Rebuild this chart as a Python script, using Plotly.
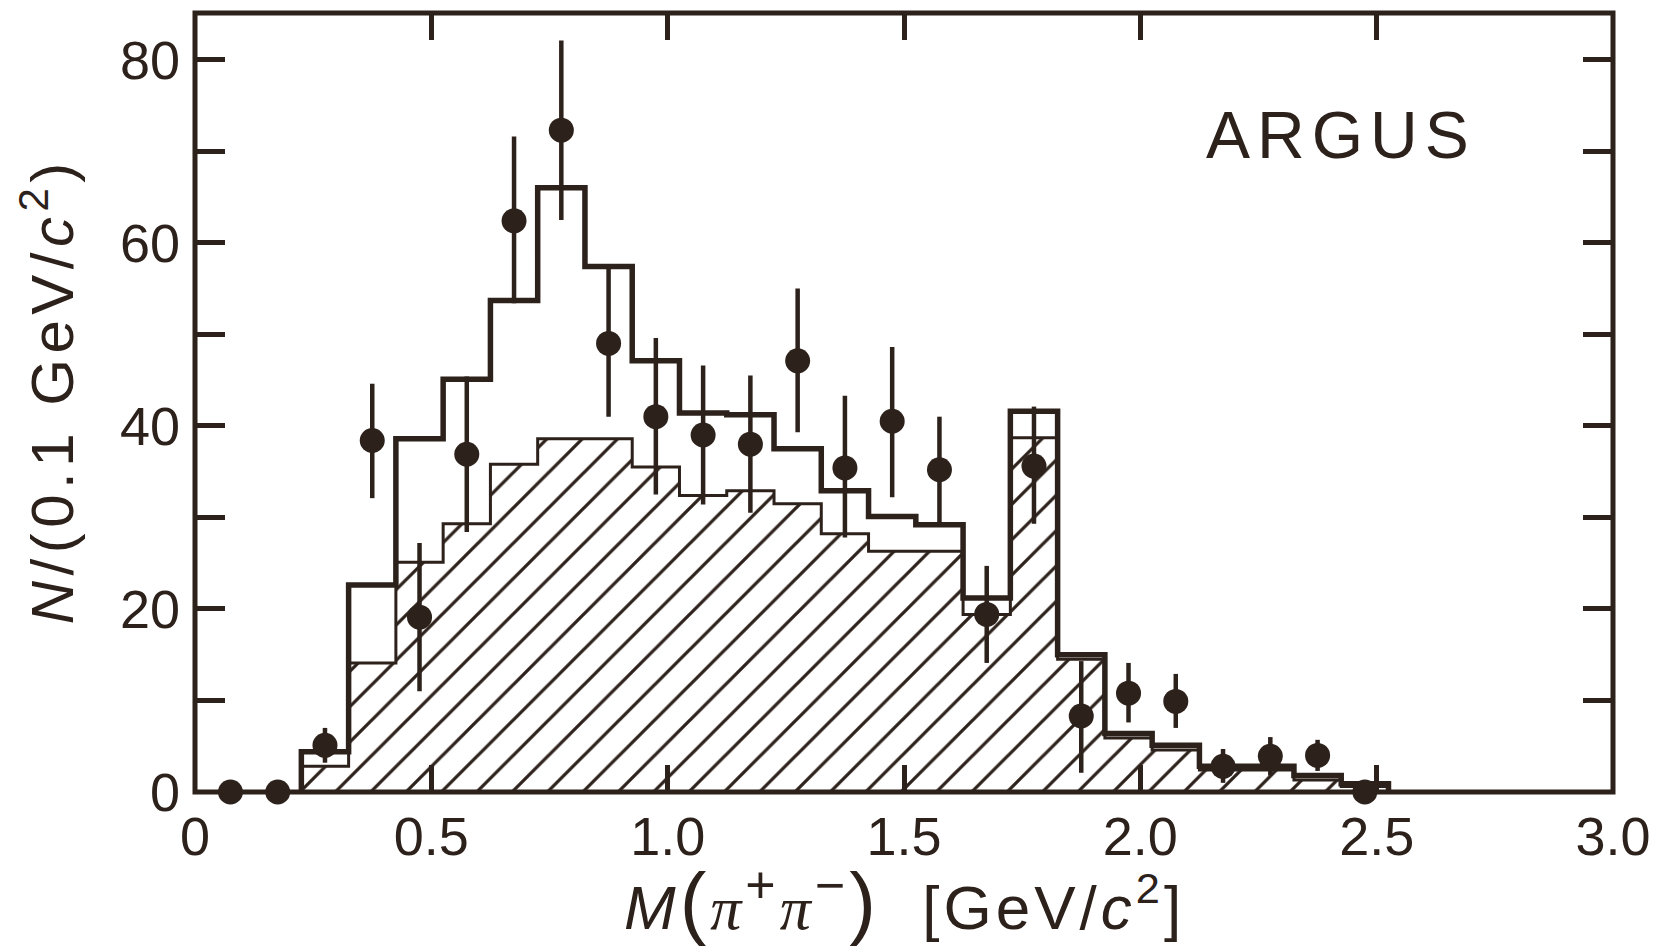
import plotly.graph_objects as go

INK = "#2d211b"

# ---------------- data ----------------
point_mass = [0.075, 0.175, 0.275, 0.375, 0.475, 0.575, 0.675, 0.775, 0.875, 0.975,
              1.075, 1.175, 1.275, 1.375, 1.475, 1.575, 1.675, 1.775, 1.875, 1.975,
              2.075, 2.175, 2.275, 2.375, 2.475]
point_counts = [0.0, 0.0, 5.1, 38.4, 19.1, 36.9, 62.4, 72.3, 49.0, 41.0,
                39.0, 38.0, 47.1, 35.4, 40.5, 35.2, 19.4, 35.6, 8.3, 10.8,
                9.9, 2.8, 3.9, 4.0, 0.0]
err_up = [0, 0, 1.9, 6.2, 8.1, 8.5, 9.2, 9.8, 8.2, 8.6,
          7.6, 7.5, 7.9, 7.9, 8.1, 5.8, 5.3, 6.5, 6.0, 3.3,
          3.0, 1.9, 2.1, 1.7, 0]
err_down = [0, 0, 1.9, 6.3, 8.1, 8.5, 9.0, 9.8, 8.0, 8.5,
            7.6, 7.5, 7.8, 7.6, 8.3, 5.8, 5.3, 6.3, 6.2, 3.2,
            2.9, 1.8, 2.1, 1.7, 0]

bin_edges = [0.225, 0.325, 0.425, 0.525, 0.625, 0.725, 0.825, 0.925, 1.025, 1.125,
             1.225, 1.325, 1.425, 1.525, 1.625, 1.725, 1.825, 1.925, 2.025, 2.125,
             2.225, 2.325, 2.425, 2.525]
total_counts = [4.4, 22.6, 38.6, 45.1, 53.7, 66.0, 57.4, 47.1, 41.4, 41.2,
                37.5, 32.9, 30.1, 29.2, 21.2, 41.6, 15.0, 6.4, 5.1, 2.8,
                2.8, 1.8, 0.9]
background_counts = [2.8, 14.1, 25.1, 29.3, 35.8, 38.6, 38.6, 35.5, 32.4, 32.9,
                     31.5, 28.2, 26.3, 26.3, 19.4, 38.7, 14.5, 5.9, 4.6, 2.4,
                     2.4, 1.3, 0.6]

x_ticks = [0, 0.5, 1.0, 1.5, 2.0, 2.5, 3.0]
x_ticklabels = ["0", "0.5", "1.0", "1.5", "2.0", "2.5", "3.0"]
y_ticks = [0, 10, 20, 30, 40, 50, 60, 70, 80]
y_ticklabels = ["0", "", "20", "", "40", "", "60", "", "80"]

# ---------------- derived ----------------
bin_centers = [(a + b) / 2 for a, b in zip(bin_edges[:-1], bin_edges[1:])]
bin_widths = [b - a for a, b in zip(bin_edges[:-1], bin_edges[1:])]


def step_xy(edges, counts):
    xs = [edges[0]] + list(edges)
    ys = [0] + list(counts) + [0]
    return xs, ys


fig = go.Figure()

# hatched background histogram
fig.add_trace(go.Bar(
    x=bin_centers, y=background_counts, width=bin_widths,
    marker=dict(color="white", line=dict(width=0),
                pattern=dict(shape="/", fgcolor=INK, bgcolor="white",
                             size=25, solidity=0.13, fillmode="replace")),
    hoverinfo="skip", showlegend=False,
))

bx, by = step_xy(bin_edges, background_counts)
fig.add_trace(go.Scatter(x=bx, y=by, mode="lines", line=dict(color=INK, width=3, shape="hv"),
                         hoverinfo="skip", showlegend=False))

tx, ty = step_xy(bin_edges, total_counts)
fig.add_trace(go.Scatter(x=tx, y=ty, mode="lines", line=dict(color=INK, width=5.5, shape="hv"),
                         hoverinfo="skip", showlegend=False))

fig.add_trace(go.Scatter(
    x=point_mass, y=point_counts, mode="markers",
    marker=dict(color=INK, size=25, line=dict(width=0)),
    error_y=dict(type="data", array=err_up, arrayminus=err_down, symmetric=False,
                 color=INK, thickness=4.5, width=0),
    cliponaxis=False, showlegend=False,
))

tickfont = dict(family="Liberation Sans, Arial, sans-serif", size=54, color=INK)

fig.update_xaxes(range=[0, 3.0], tickvals=x_ticks, ticktext=x_ticklabels,
                 ticks="inside", ticklen=27, tickwidth=5, tickcolor=INK, mirror="ticks",
                 showline=False, showgrid=False, zeroline=False, tickfont=tickfont,
                 ticklabelstandoff=8)
fig.update_yaxes(range=[0, 85.1], tickvals=y_ticks, ticktext=y_ticklabels,
                 ticks="inside", ticklen=30, tickwidth=5, tickcolor=INK, mirror="ticks",
                 showline=False, showgrid=False, zeroline=False, tickfont=tickfont,
                 ticklabelstandoff=14)

fig.add_shape(type="rect", xref="paper", yref="paper", x0=0, x1=1, y0=0, y1=1,
              line=dict(color=INK, width=5), layer="above")

serif = "font-family:Liberation Serif"
x_title = ('<span style="letter-spacing:4px"><i>M</i>'
           '<span style="font-size:80px">(</span>'
           f'<span style="{serif}"><i>π</i></span><sup><span style="font-size:52px">+</span></sup>'
           f'<span style="{serif}"><i>π</i></span><sup><span style="font-size:52px">−</span></sup>'
           '<span style="font-size:80px">)</span>\u00a0\u00a0[GeV/<i>c</i><sup>2</sup>]</span>')
y_title = '<span style="letter-spacing:5.5px"><i>N</i>/(0.1 GeV/<i>c</i><sup>2</sup>)</span>'

fig.add_annotation(text=x_title, xref="paper", yref="paper", x=0.5, y=-0.14,
                   xanchor="center", yanchor="middle", showarrow=False,
                   font=dict(family="Liberation Sans, Arial, sans-serif", size=62, color=INK))
fig.add_annotation(text=y_title, xref="paper", yref="paper", x=-0.104, y=0.515,
                   xanchor="center", yanchor="middle", showarrow=False, textangle=-90,
                   font=dict(family="Liberation Sans, Arial, sans-serif", size=60, color=INK))
fig.add_annotation(text='<span style="letter-spacing:7px">ARGUS</span>', x=2.425, y=71.8,
                   xanchor="center", yanchor="middle", showarrow=False,
                   font=dict(family="Liberation Sans, Arial, sans-serif", size=66, color=INK))

fig.update_layout(width=1663, height=948, margin=dict(l=195, r=48, t=13, b=156),
                  paper_bgcolor="white", plot_bgcolor="white", barmode="overlay",
                  bargap=0, showlegend=False)

fig.write_html("out.html")
